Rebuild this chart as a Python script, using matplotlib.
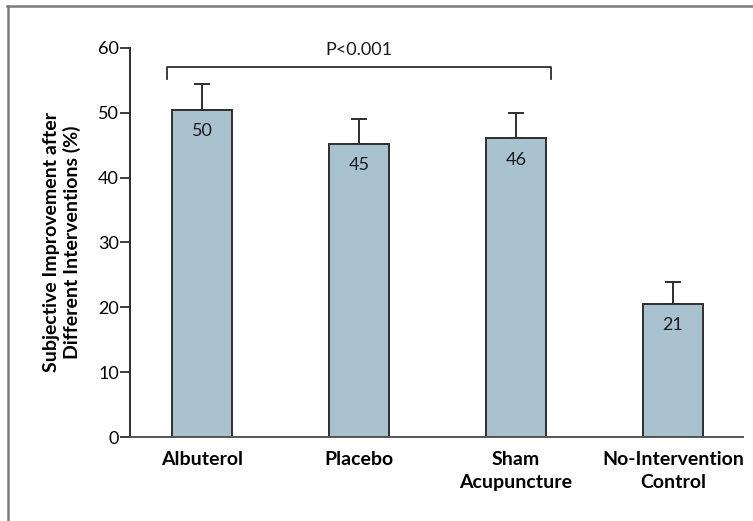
import matplotlib.pyplot as plt
import numpy as np

plt.rcParams['font.family'] = ['Lato', 'DejaVu Sans']

# data
groups = ["Albuterol", "Placebo", "Sham\nAcupuncture", "No-Intervention\nControl"]
improvement = [50.5, 45.2, 46.1, 20.5]
err_up = [3.9, 3.9, 3.9, 3.4]
value_labels = ["50", "45", "46", "21"]
y_ticks = [0, 10, 20, 30, 40, 50, 60]

fig = plt.figure(figsize=(7.53, 5.21), dpi=100)

# gray frame round the figure (top and left edges)
fig.add_artist(plt.Line2D([0.009, 1.0], [0.988, 0.988], color="#7a7a7a", lw=1.8))
fig.add_artist(plt.Line2D([0.010, 0.010], [0.0, 0.988], color="#7a7a7a", lw=1.8))

ax = fig.add_axes([0.1726, 0.1612, 0.8141, 0.7467])
x = np.arange(len(groups))

ax.bar(x, improvement, width=0.38, color="#a9c2d0", edgecolor="#2e2e2e", linewidth=1.4, zorder=2)
ax.errorbar(x, improvement, yerr=[np.zeros(len(x)), err_up], fmt="none",
            ecolor="#2e2e2e", elinewidth=1.4, capsize=6, capthick=1.4, zorder=1)

# numbers inside the bars
for i, v in enumerate(improvement):
    ax.text(x[i], v - 3.3, value_labels[i], ha="center", va="center", fontsize=13, color="#1a1a1a")

# bracket with p value
ax.plot([0 - 0.22, 0 - 0.22, 2 + 0.22, 2 + 0.22], [55.2, 57.0, 57.0, 55.2],
        color="#2e2e2e", lw=1.3, clip_on=False)
ax.text(1, 59.7, "P<0.001", ha="center", va="center", fontsize=13, color="#1a1a1a")

ax.set_xlim(-0.459, 3.446)
ax.set_ylim(0, 60)
ax.set_yticks(y_ticks)
ax.set_xticks(x)
ax.set_xticklabels(groups, fontsize=14, fontweight="bold", linespacing=1.45)
ax.tick_params(axis="x", length=0, pad=10)
ax.tick_params(axis="y", length=7, width=1.3, labelsize=13, pad=1, color="#2e2e2e")

for s in ["top", "right"]:
    ax.spines[s].set_visible(False)
ax.spines["left"].set_color("#2e2e2e")
ax.spines["bottom"].set_color("#555555")
ax.spines["left"].set_linewidth(1.4)
ax.spines["bottom"].set_linewidth(1.4)

ax.set_ylabel("Subjective Improvement after\nDifferent Interventions (%)", fontsize=14,
              fontweight="bold", labelpad=12, linespacing=1.2)

plt.savefig("out.png", dpi=100)
